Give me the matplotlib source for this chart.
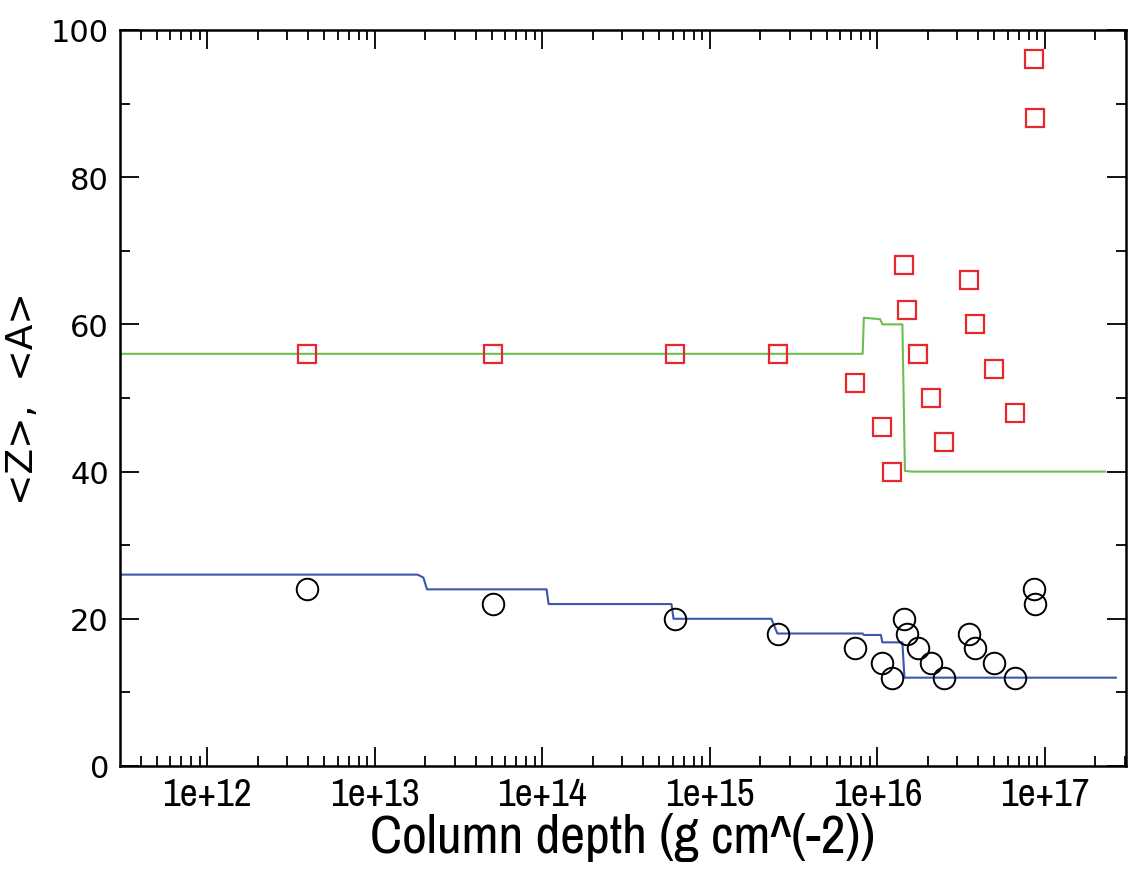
import numpy as np
import matplotlib
matplotlib.use("Agg")
import matplotlib.pyplot as plt
from matplotlib import font_manager
from matplotlib.ticker import LogLocator, MultipleLocator, NullFormatter

# composition points (column depth, <Z>, <A>)
depth_pts = [3.93e12, 5.1e13, 6.2e14, 2.56e15, 7.4e15, 1.07e16, 1.22e16,
             1.44e16, 1.50e16, 1.74e16, 2.08e16, 2.5e16,
             3.5e16, 3.8e16, 4.97e16, 6.6e16, 8.65e16, 8.75e16]
z_pts = [24, 22, 20, 18, 16, 14, 12, 20, 18, 16, 14, 12, 18, 16, 14, 12, 24, 22]
a_pts = [56, 56, 56, 56, 52, 46, 40, 68, 62, 56, 50, 44, 66, 60, 54, 48, 96, 88]

# mean Z profile
z_line_depth = [3.0e11, 1.80e13, 1.95e13, 2.05e13, 1.06e14, 1.09e14, 5.9e14, 6.07e14,
                2.33e15, 2.53e15, 8.17e15, 8.3e15, 1.05e16, 1.07e16, 1.41e16, 1.45e16, 2.65e17]
z_line = [26, 26, 25.6, 24, 24, 22, 22, 20, 20, 18, 18, 17.8, 17.8, 16.8, 16.8, 12, 12]

# mean A profile
a_line_depth = [3.0e11, 8.17e15, 8.3e15, 1.04e16, 1.07e16, 1.41e16, 1.46e16, 1.6e16, 2.29e17]
a_line = [56, 56, 60.9, 60.7, 60.0, 60.0, 40.1, 40.0, 40.0]

# pick a narrow face for the x axis texts if one is installed
names = sorted({f.name for f in font_manager.fontManager.ttflist})
narrow = [n for n in names if 'Narrow' in n or 'Condensed' in n]
xfam = narrow[:1] + ['DejaVu Sans']
xfont = len(narrow) > 0

fig = plt.figure(figsize=(11.32, 8.70), dpi=100)
ax = fig.add_axes([0.106, 0.1184, 0.8887, 0.846])

ax.plot(a_line_depth, a_line, color='#6cbf4e', lw=1.5)
ax.plot(z_line_depth, z_line, color='#3c55ad', lw=1.5)
ax.plot(depth_pts, a_pts, 's', ms=12.8, mfc='none', mec='#e8262b', mew=1.6)
ax.plot(depth_pts, z_pts, 'o', ms=15.5, mfc='none', mec='black', mew=1.4)

ax.set_xscale('log')
ax.set_xlim(10**11.479, 10**17.484)
ax.set_ylim(0, 100)

ax.xaxis.set_minor_locator(LogLocator(base=10, subs=np.arange(2, 10), numticks=20))
ax.xaxis.set_minor_formatter(NullFormatter())
ax.set_xticks([1e12, 1e13, 1e14, 1e15, 1e16, 1e17])
ax.set_xticklabels(['1e+12', '1e+13', '1e+14', '1e+15', '1e+16', '1e+17'])
ax.yaxis.set_major_locator(MultipleLocator(20))
ax.yaxis.set_minor_locator(MultipleLocator(10))

ax.tick_params(which='both', direction='in', top=True, right=True, width=1.3)
ax.tick_params(which='major', length=14)
ax.tick_params(which='minor', length=7)
ax.tick_params(axis='y', labelsize=22, pad=8)
ax.tick_params(axis='x', labelsize=28 if xfont else 19, pad=8)
for lab in ax.get_xticklabels():
    lab.set_family(xfam)
for s in ax.spines.values():
    s.set_linewidth(1.8)

ax.set_xlabel('Column depth (g cm^(-2))', fontsize=39 if xfont else 27,
              family=xfam, labelpad=0)
ax.set_ylabel('<Z>,  <A>', fontsize=27, labelpad=7)

fig.savefig('out.png', dpi=100)
